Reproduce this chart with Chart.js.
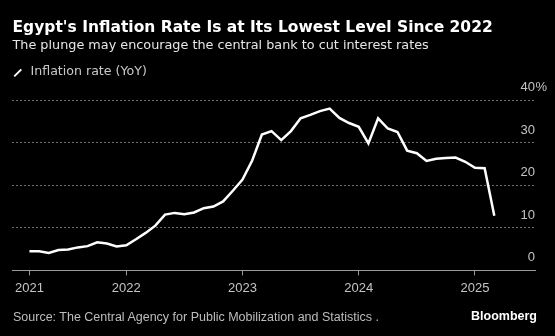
<!DOCTYPE html>
<html lang="en">
  <head>
    <meta charset="UTF-8" />
    <title>Egypt inflation</title>
    <script src="https://cdn.jsdelivr.net/npm/chart.js@4.4.1/dist/chart.umd.min.js"></script>
    <style>
      html, body { margin: 0; padding: 0; background: #000; }
      .wrap { position: relative; width: 555px; height: 336px; overflow: hidden; background: #000; font-family: "DejaVu Sans", sans-serif; }
      .wrap div { position: absolute; white-space: nowrap; line-height: 1; }
      #titulo { left: 12.5px; top: 19.9px; font-size: 15.5px; font-weight: bold; color: #fff; }
      #sub { left: 12.5px; top: 38.5px; font-size: 12.8px; color: #e6e6e6; }
      #legenda { left: 30.5px; top: 65.3px; font-size: 12.6px; color: #c8c8c8; }
      #traco { left: 12.8px; top: 72.1px; width: 9.5px; height: 2.4px; background: #fff; transform: rotate(-45deg); }
      #fonte { left: 13px; top: 311px; font-size: 12.5px; color: #bdbdbd; font-family: "Liberation Sans", sans-serif; }
      #marca { right: 18px; top: 309.5px; font-size: 12.5px; font-weight: bold; color: #fff; font-family: "Liberation Sans", sans-serif; }
      canvas { position: absolute; left: 0; top: 0; }
    </style>
  </head>
  <body>
    <div class="wrap">
      <canvas id="grafico" width="555" height="336"></canvas>
      <div id="titulo">Egypt's Inflation Rate Is at Its Lowest Level Since 2022</div>
      <div id="sub">The plunge may encourage the central bank to cut interest rates</div>
      <div id="traco"></div>
      <div id="legenda">Inflation rate (YoY)</div>
      <div id="fonte">Source: The Central Agency for Public Mobilization and Statistics .</div>
      <div id="marca">Bloomberg</div>
    </div>
    <script>
      // monthly readings, Feb 2021 .. Feb 2025
      var meses = [
        "2021-02", "2021-03", "2021-04", "2021-05", "2021-06", "2021-07", "2021-08", "2021-09", "2021-10", "2021-11", "2021-12",
        "2022-01", "2022-02", "2022-03", "2022-04", "2022-05", "2022-06", "2022-07", "2022-08", "2022-09", "2022-10", "2022-11", "2022-12",
        "2023-01", "2023-02", "2023-03", "2023-04", "2023-05", "2023-06", "2023-07", "2023-08", "2023-09", "2023-10", "2023-11", "2023-12",
        "2024-01", "2024-02", "2024-03", "2024-04", "2024-05", "2024-06", "2024-07", "2024-08", "2024-09", "2024-10", "2024-11", "2024-12",
        "2025-01", "2025-02"
      ];
      var inflacao = [
        4.5, 4.5, 4.1, 4.8, 4.9, 5.4, 5.7, 6.6, 6.3, 5.6, 5.9,
        7.3, 8.8, 10.5, 13.1, 13.5, 13.2, 13.6, 14.6, 15.0, 16.2, 18.7, 21.3,
        25.8, 31.9, 32.7, 30.6, 32.7, 35.7, 36.5, 37.4, 38.0, 35.8, 34.6, 33.7,
        29.8, 35.7, 33.3, 32.5, 28.1, 27.5, 25.7, 26.2, 26.4, 26.5, 25.5, 24.1,
        24.0, 12.8
      ];
      var anos = ["2021", "2022", "2023", "2024", "2025"];
      var valoresY = [0, 10, 20, 30, 40];

      // year tick sits on the December reading (first one on the first point)
      var posAnos = anos.map(function (a) {
        var i = meses.indexOf(Number(a) - 1 + "-12");
        return i < 0 ? 0 : i;
      });

      var corTexto = "#c4c4c4";
      var fonteEixo = { family: "Liberation Sans", size: 13 };

      // the % hangs to the right of the top label
      var sinalPct = {
        id: "sinalPct",
        afterDraw: function (chart) {
          var s = chart.scales.y;
          var ctx = chart.ctx;
          ctx.save();
          ctx.font = '13px "Liberation Sans"';
          ctx.fillStyle = corTexto;
          ctx.textAlign = "left";
          ctx.textBaseline = "middle";
          ctx.fillText("%", chart.chartArea.right + 0.5, s.getPixelForValue(s.max) - 12.5);
          ctx.restore();
        },
      };

      new Chart(document.getElementById("grafico"), {
        type: "line",
        data: {
          datasets: [
            {
              label: "Inflation rate (YoY)",
              data: inflacao.map(function (v, i) { return { x: i, y: v }; }),
              borderColor: "#ffffff",
              borderWidth: 2.5,
              pointRadius: 0,
              tension: 0,
            },
          ],
        },
        options: {
          responsive: false,
          animation: false,
          devicePixelRatio: 1,
          layout: { padding: { left: 12, right: 20, top: 100, bottom: 35 } },
          plugins: { legend: { display: false }, tooltip: { enabled: false } },
          scales: {
            x: {
              type: "linear",
              min: -1.8,
              max: 52.2,
              afterBuildTicks: function (s) {
                s.ticks = posAnos.map(function (v) { return { value: v }; });
              },
              ticks: {
                autoSkip: false,
                maxRotation: 0,
                padding: 5,
                color: corTexto,
                font: fonteEixo,
                callback: function (v, i) { return anos[i]; },
              },
              grid: { drawOnChartArea: false, drawTicks: true, tickLength: 5, color: "#9a9a9a" },
              border: { color: "#9a9a9a", width: 1 },
            },
            y: {
              position: "right",
              min: valoresY[0],
              max: valoresY[valoresY.length - 1],
              afterBuildTicks: function (s) {
                s.ticks = valoresY.map(function (v) { return { value: v }; });
              },
              ticks: {
                mirror: true,
                padding: 0,
                labelOffset: -12.5,
                color: corTexto,
                font: fonteEixo,
              },
              grid: {
                drawTicks: false,
                lineWidth: 1,
                color: function (c) { return c.tick && c.tick.value === 0 ? "rgba(0,0,0,0)" : "#6e6e6e"; },
              },
              border: { display: false, dash: [2, 2] },
            },
          },
        },
        plugins: [sinalPct],
      });
    </script>
  </body>
</html>
